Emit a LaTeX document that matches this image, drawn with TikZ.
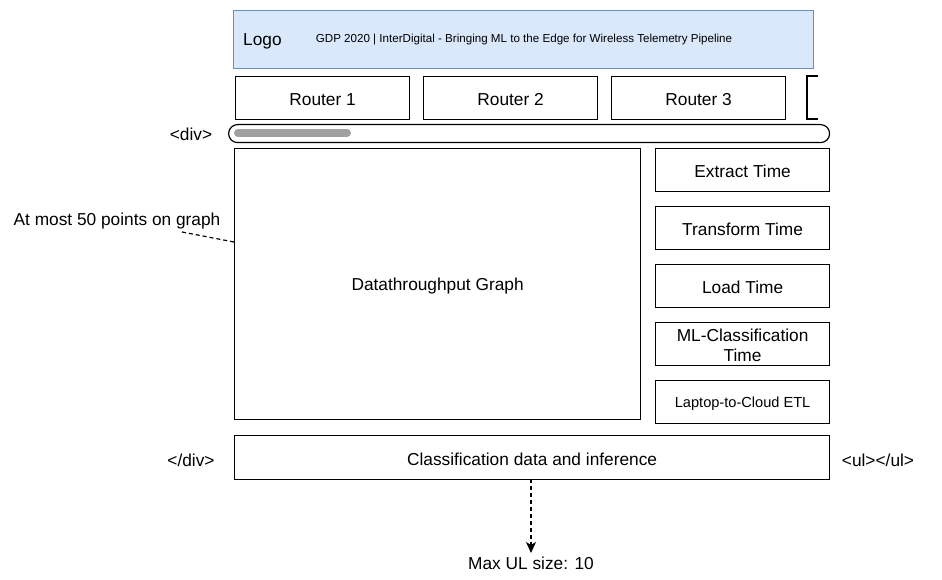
\documentclass[tikz,border=0pt]{standalone}
\usepackage{fontspec}
\setmainfont{Liberation Sans}
\usetikzlibrary{arrows.meta}
\definecolor{hdrfill}{HTML}{DAE8FC}
\definecolor{hdrline}{HTML}{6C8EBF}
\definecolor{thumb}{HTML}{A0A0A0}
\begin{document}
\begin{tikzpicture}[x=1pt,y=-1pt,
  box/.style={draw=black,line width=1.2pt,inner sep=0pt,anchor=north west},
  txt/.style={font=\fontsize{17.3}{20}\selectfont,inner sep=0pt,yshift=-1.5pt},
  small/.style={font=\fontsize{14.6}{17}\selectfont,inner sep=0pt,yshift=-1.5pt},
  dashline/.style={line width=1.2pt,dash pattern=on 4pt off 3pt}]
\useasboundingbox (0,0) rectangle (942,580);
% header
\node[box,draw=hdrline,fill=hdrfill,minimum width=580pt,minimum height=58pt] (hdr) at (233,10) {};
\node[txt,anchor=west] (logo) at (243,40) {Logo};
\node[inner sep=0pt,font=\fontsize{11.6}{14}\selectfont,yshift=-0.5pt] (title) at (524,39) {GDP 2020 | InterDigital - Bringing ML to the Edge for Wireless Telemetry Pipeline};
% routers
\node[box,minimum width=174pt,minimum height=43pt] (r1) at (235,76) {};
\node[txt] at (r1.center) {Router 1};
\node[box,minimum width=174pt,minimum height=43pt] (r2) at (423,76) {};
\node[txt] at (r2.center) {Router 2};
\node[box,minimum width=174pt,minimum height=43pt] (r3) at (611,76) {};
\node[txt] at (r3.center) {Router 3};
\coordinate (r4a) at (818,76);
\coordinate (r4b) at (807,76);
\coordinate (r4c) at (807,119);
\coordinate (r4d) at (818,119);
\draw[line width=1.2pt] (r4a) -- (r4b) -- (r4c) -- (r4d);
% scrollbar
\node[box,rounded corners=9pt,minimum width=601pt,minimum height=18pt] (scroll) at (228,124) {};
\coordinate (th1) at (238,133);
\coordinate (th2) at (347,133);
\draw[thumb,line width=8pt,line cap=round] (th1) -- (th2);
\node[txt] (div) at (191,133) {<div>};
% graph
\node[box,minimum width=406pt,minimum height=271pt] (graph) at (234,148) {};
\node[txt] at (graph.center) {Datathroughput Graph};
% right boxes
\node[box,minimum width=174pt,minimum height=43pt] (b1) at (655,148) {};
\node[txt] at (b1.center) {Extract Time};
\node[box,minimum width=174pt,minimum height=43pt] (b2) at (655,206) {};
\node[txt] at (b2.center) {Transform Time};
\node[box,minimum width=174pt,minimum height=43pt] (b3) at (655,264) {};
\node[txt] at (b3.center) {Load Time};
\node[box,minimum width=174pt,minimum height=43pt] (b4) at (655,322) {};
\node[txt,align=center,font=\fontsize{17.3}{20}\selectfont] at (b4.center) {ML-Classification\\Time};
\node[box,minimum width=174pt,minimum height=43pt] (b5) at (655,380) {};
\node[small] at (b5.center) {Laptop-to-Cloud ETL};
% bottom
\node[box,minimum width=595pt,minimum height=44pt] (cls) at (234,435) {};
\node[txt] at (cls.center) {Classification data and inference};
\node[txt] (ediv) at (191,459) {</div>};
\node[txt] (ul) at (878,459) {<ul></ul>};
% annotations
\node[txt] (note) at (117,220) {At most 50 points on graph};
\coordinate (n1) at (182,232);
\coordinate (n2) at (234,242);
\draw[dashline] (n1) -- (n2);
\node[txt] (max) at (531,562) {Max UL size: 10};
\coordinate (a0) at (531,479);
\coordinate (a1) at (531,553);
\draw[dashline,-{Stealth[length=11pt,width=10pt,inset=3pt]}] (a0) -- (a1);
\end{tikzpicture}
\end{document}
